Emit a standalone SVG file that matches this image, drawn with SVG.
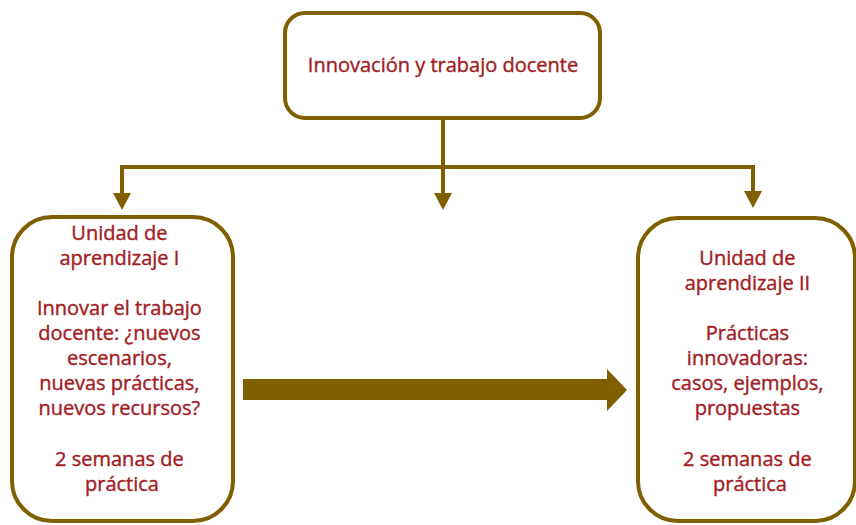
<svg xmlns="http://www.w3.org/2000/svg" width="856" height="525" viewBox="0 0 856 525">
<defs>
<style>
.box{fill:#ffffff;stroke:#7f5f00;stroke-width:4}
.line{fill:none;stroke:#7f5f00;stroke-width:4}
.head{fill:#7f5f00}
text{font-family:"Open Sans","Liberation Sans",sans-serif;font-size:20px;fill:#a31c24;stroke:#a31c24;stroke-width:0.4;text-anchor:middle}
</style>
</defs>
<rect width="856" height="525" fill="#ffffff"/>
<g id="connectors">
<path class="line" d="M443,118 V167 M122,167 H753 M122,165 V196 M443,167 V196 M753,165 V194"/>
<polygon class="head" points="113,193 131,193 122,210"/>
<polygon class="head" points="434,193 452,193 443,210"/>
<polygon class="head" points="744,191 762,191 753,208"/>
<polygon class="head" points="243,379 607,379 607,369 627,390 607,411 607,400 243,400"/>
</g>
<g id="top">
<rect class="box" x="285" y="13" width="315" height="105" rx="20"/>
<text x="443" y="72">Innovación y trabajo docente</text>
</g>
<g id="unidad1">
<rect class="box" x="12" y="217" width="221" height="304" rx="40"/>
<text x="122">
<tspan x="122" y="240">Unidad de</tspan>
<tspan x="122" y="265">aprendizaje I</tspan>
<tspan x="122" y="315">Innovar el trabajo</tspan>
<tspan x="122" y="340">docente: ¿nuevos</tspan>
<tspan x="122" y="365">escenarios,</tspan>
<tspan x="122" y="390">nuevas prácticas,</tspan>
<tspan x="122" y="415">nuevos recursos?</tspan>
<tspan x="122" y="466">2 semanas de</tspan>
<tspan x="122" y="491">práctica</tspan>
</text>
</g>
<g id="unidad2">
<rect class="box" x="638" y="218" width="217" height="303" rx="40"/>
<text x="750">
<tspan x="750" y="265">Unidad de</tspan>
<tspan x="750" y="290">aprendizaje II</tspan>
<tspan x="750" y="340">Prácticas</tspan>
<tspan x="750" y="365">innovadoras:</tspan>
<tspan x="750" y="390">casos, ejemplos,</tspan>
<tspan x="750" y="415">propuestas</tspan>
<tspan x="750" y="466">2 semanas de</tspan>
<tspan x="750" y="491">práctica</tspan>
</text>
</g>
</svg>
